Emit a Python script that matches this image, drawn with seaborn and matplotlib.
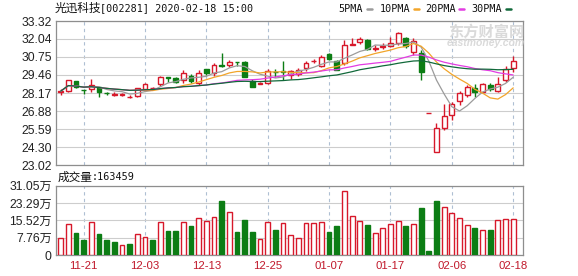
import numpy as np
import pandas as pd
import matplotlib
matplotlib.use("Agg")
import matplotlib.pyplot as plt
from matplotlib.lines import Line2D
import seaborn as sns

# ---------------- data ----------------
dates = ["11-18", "11-19", "11-20", "11-21", "11-22", "11-25", "11-26", "11-27", "11-28", "11-29",
         "12-02", "12-03", "12-04", "12-05", "12-06", "12-09", "12-10", "12-11", "12-12", "12-13",
         "12-16", "12-17", "12-18", "12-19", "12-20", "12-23", "12-24", "12-25", "12-26", "12-27",
         "12-30", "12-31", "01-02", "01-03", "01-06", "01-07", "01-08", "01-09", "01-10", "01-13",
         "01-14", "01-15", "01-16", "01-17", "01-20", "01-21", "01-22", "01-23", "02-03", "02-04",
         "02-05", "02-06", "02-07", "02-10", "02-11", "02-12", "02-13", "02-14", "02-17", "02-18"]

opens = [28.24, 28.28, 29.03, 28.38, 28.43, 28.58, 28.17, 28.06, 28.05, 27.86,
         27.93, 28.43, 28.52, 28.78, 29.30, 29.27, 29.10, 29.39, 28.86, 29.87,
         29.60, 30.15, 30.14, 30.40, 30.38, 29.05, 28.82, 28.86, 29.70, 29.74,
         29.45, 29.50, 29.94, 30.44, 30.12, 30.94, 30.46, 30.29, 31.62, 31.80,
         31.96, 31.35, 31.45, 31.55, 31.72, 32.13, 31.12, 31.01, 26.72, 23.98,
         25.64, 26.60, 27.60, 28.03, 28.55, 28.26, 28.74, 28.30, 29.10, 29.98]
highs = [28.45, 29.12, 29.05, 28.40, 29.17, 28.60, 28.25, 28.22, 28.20, 28.02,
         28.52, 28.85, 28.62, 29.40, 29.32, 29.30, 29.82, 29.53, 29.82, 29.90,
         30.35, 31.00, 30.55, 30.42, 30.45, 29.15, 28.95, 29.86, 29.92, 30.46,
         29.85, 29.95, 30.45, 30.62, 30.90, 31.00, 30.55, 31.98, 32.10, 32.15,
         32.05, 31.62, 31.75, 32.20, 32.50, 32.20, 32.08, 31.25, 26.72, 26.00,
         27.38, 27.55, 28.30, 28.72, 28.82, 28.85, 28.85, 29.30, 30.10, 30.82]
lows = [28.03, 28.22, 28.55, 28.10, 28.26, 27.90, 28.00, 27.95, 27.98, 27.78,
        27.88, 28.30, 28.48, 28.70, 28.98, 28.90, 28.86, 28.86, 28.75, 29.45,
        29.41, 30.00, 30.05, 30.12, 29.28, 28.58, 28.78, 28.78, 29.30, 29.10,
        29.20, 29.40, 29.75, 30.30, 30.05, 30.50, 29.78, 30.20, 31.58, 31.65,
        31.25, 31.20, 31.30, 31.45, 31.60, 31.40, 30.90, 29.10, 26.72, 23.94,
        25.50, 26.24, 27.31, 27.90, 27.90, 28.20, 28.30, 28.26, 28.98, 29.70]
closes = [28.30, 29.10, 28.60, 28.36, 28.74, 28.27, 28.14, 28.08, 28.10, 27.90,
          28.50, 28.78, 28.56, 29.34, 29.27, 28.96, 29.62, 29.05, 29.58, 29.60,
          30.17, 30.08, 30.40, 30.36, 29.32, 28.62, 28.86, 29.74, 29.66, 29.70,
          29.76, 29.82, 30.29, 30.48, 30.77, 30.60, 29.82, 31.60, 31.66, 32.03,
          31.32, 31.40, 31.50, 31.72, 32.44, 31.50, 31.91, 29.69, 26.72, 25.64,
          26.52, 27.38, 28.15, 28.60, 28.25, 28.79, 28.48, 28.82, 29.92, 30.46]
volumes_wan = [7.5, 14.0, 9.9, 6.8, 14.8, 9.5, 6.8, 5.9, 4.4, 5.0,
               9.3, 8.0, 6.8, 14.8, 10.9, 10.9, 14.8, 13.1, 16.6, 15.4,
               17.0, 24.4, 19.3, 10.4, 15.8, 10.4, 7.1, 14.8, 11.3, 14.3,
               9.0, 7.5, 14.3, 14.3, 14.8, 10.4, 13.1, 28.8, 17.6, 15.2,
               13.6, 9.8, 12.1, 14.0, 15.2, 13.1, 14.0, 21.2, 1.8, 24.0,
               21.5, 19.0, 16.6, 13.6, 12.2, 11.3, 11.3, 15.7, 16.1, 16.3459]

price_tick_labels = ["23.02", "24.30", "25.59", "26.88", "28.17", "29.46", "30.75", "32.04", "33.32"]
vol_ticks = [0, 7.76, 15.52, 23.29, 31.05]
vol_tick_labels = ["0", "7.76万", "15.52万", "23.29万", "31.05万"]
date_tick_labels = ["11-21", "12-03", "12-13", "12-25", "01-07", "01-17", "02-06", "02-18"]

ma_periods = [5, 10, 20, 30]
ma_names = ["5PMA", "10PMA", "20PMA", "30PMA"]
ma_colors = ["#9b9b9b", "#f2a52a", "#e23ce2", "#11693a"]

stock_name = "光迅科技"
stock_info = "[002281] 2020-02-18 15:00"
vol_title = "成交量"
last_volume = "163459"

# ---------------- styling ----------------
RED = "#d7182a"
GREEN = "#0c7d14"
sns.set_theme(style="white")
plt.rcParams["font.family"] = ["Liberation Sans", "Noto Sans CJK SC", "DejaVu Sans"]

W, H = 578, 276
fig = plt.figure(figsize=(W / 100, H / 100), dpi=100)
fig.patch.set_facecolor("white")

def fx(px):
    return px / W

def fy(py):
    return 1 - py / H

L, R = 56, 522.7
ax = fig.add_axes([fx(L), fy(165), fx(R - L), 144 / H])
axv = fig.add_axes([fx(L), fy(255), fx(R - L), 69.3 / H])

df = pd.DataFrame({"date": dates, "open": opens, "high": highs, "low": lows,
                   "close": closes, "vol": volumes_wan})
df["x"] = np.arange(len(df))
up = df["close"] >= df["open"]
prev_close = df["close"].shift(1).fillna(df["open"])
vol_up = df["close"] >= prev_close

# wicks
ax.vlines(df["x"], df["low"], df["high"], colors=np.where(up, RED, GREEN), linewidth=1.0, zorder=2)
# bodies
body_bottom = np.minimum(df["open"], df["close"])
body_h = np.abs(df["close"] - df["open"])
ax.bar(df["x"], body_h, bottom=body_bottom, width=0.62,
       color=np.where(up, "white", GREEN), edgecolor=np.where(up, RED, GREEN),
       linewidth=1.0, zorder=3)

# moving averages
for p, name, c in zip(ma_periods, ma_names, ma_colors):
    df[name] = df["close"].rolling(p, min_periods=1).mean()
    sns.lineplot(data=df, x="x", y=name, ax=ax, color=c, linewidth=0.9, legend=False, zorder=4)

# volume bars
axv.bar(df["x"], df["vol"], width=0.62, color=np.where(vol_up, "white", GREEN),
        edgecolor=np.where(vol_up, RED, GREEN), linewidth=1.0, zorder=3)

# axes formatting
date_pos = [dates.index(d) for d in date_tick_labels]
price_ticks = [float(t) for t in price_tick_labels]
for a in (ax, axv):
    a.set_xlim(-0.61, 60.24)
    a.set_xticks(date_pos)
    a.set_xlabel("")
    a.set_ylabel("")
    a.set_axisbelow(True)
    a.grid(False)
    a.xaxis.grid(True, color="#aebfd3", linewidth=0.8, linestyle=(0, (3, 3)))
    a.yaxis.grid(True, color="#cdcdcd", linewidth=0.8, linestyle="-")
    for s in a.spines.values():
        s.set_color("#8e8e8e")
        s.set_linewidth(0.9)
        s.set_visible(True)
    a.tick_params(axis="both", length=0, labelsize=8.7, labelcolor="#222222", pad=3)

ax.set_ylim(23.02, 33.32)
ax.set_yticks(price_ticks)
ax.set_yticklabels(price_tick_labels)
ax.set_xticklabels([])

axv.set_ylim(0, 31.05)
axv.set_yticks(vol_ticks)
axv.set_yticklabels(vol_tick_labels)
axv.set_xticklabels(date_tick_labels)
axv.tick_params(axis="x", labelcolor="#c0182a", labelsize=8.2, pad=4)

# titles
mono = ["DejaVu Sans Mono", "Noto Sans CJK SC"]
fig.text(fx(55), fy(8.5), stock_name, family=["Noto Sans CJK SC", "DejaVu Sans"], fontsize=8.4,
         va="center", ha="left", color="#111111")
fig.text(fx(100), fy(8.5), stock_info, family=mono, fontsize=7.3, va="center", ha="left", color="#111111")
fig.text(fx(58), fy(177), vol_title, family=["Noto Sans CJK SC", "DejaVu Sans"], fontsize=8.4,
         va="center", ha="left", color="#111111")
fig.text(fx(92), fy(177), ":" + last_volume, family=mono, fontsize=7.3, va="center", ha="left",
         color="#111111")

# legend
legend_x = [338.3, 380, 425, 471.7]
for name, c, lx in zip(ma_names, ma_colors, legend_x):
    fig.text(fx(lx), fy(9), name, family=mono, fontsize=7.3, va="center", ha="left", color="#111111")
    dx = lx + 6.05 * len(name) + 4
    fig.add_artist(Line2D([fx(dx), fx(dx + 5)], [fy(9), fy(9)], color=c, linewidth=1.8,
                          transform=fig.transFigure))

# watermark
fig.text(fx(486), fy(31.5), "东方财富网", family=["Noto Sans CJK SC"], fontsize=11, fontweight="bold",
         color="#dadada", ha="center", va="center", zorder=0)
fig.text(fx(486), fy(43), "eastmoney.com", fontsize=7.5, fontweight="bold", style="italic",
         color="#dadada", ha="center", va="center", zorder=0)

fig.savefig("out.png", dpi=100, facecolor="white")
